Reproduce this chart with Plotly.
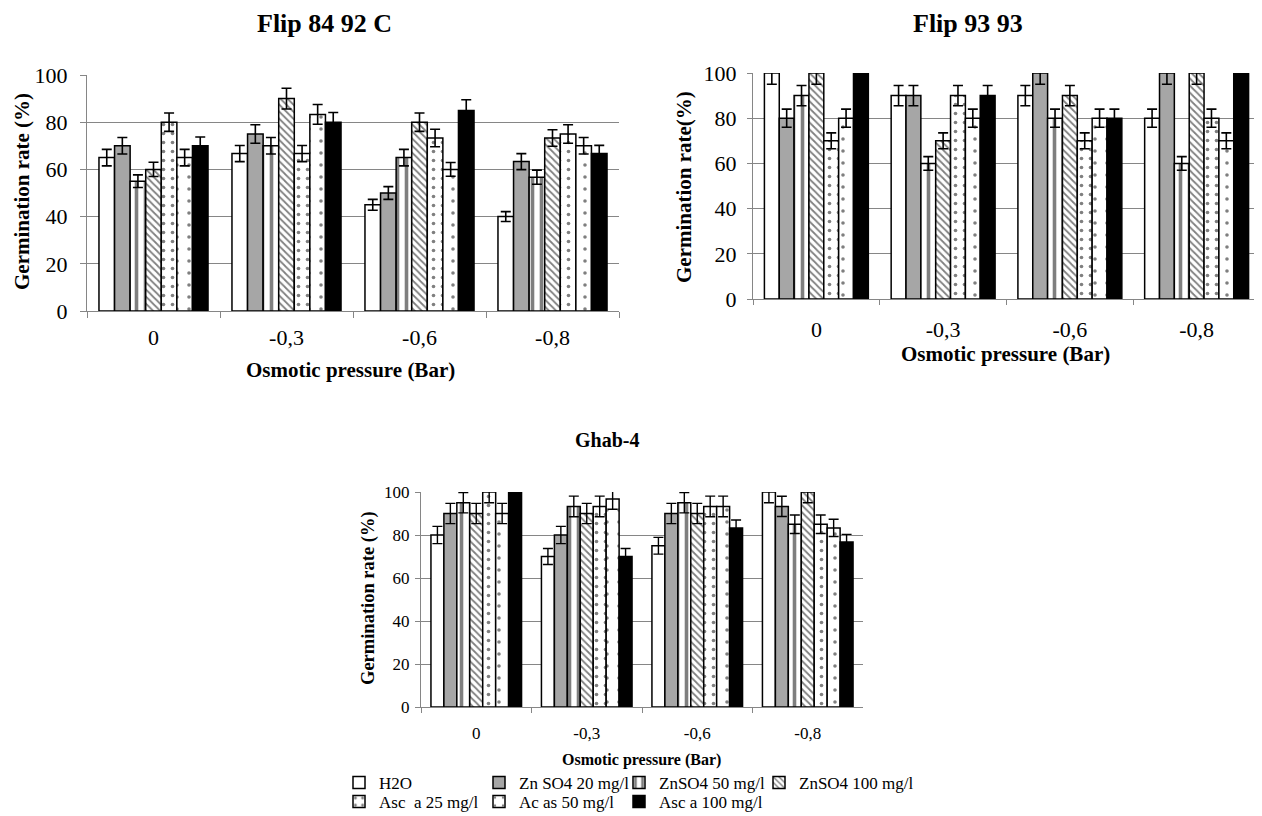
import plotly.graph_objects as go

W, H = 1262, 816
OFF = 8  # page body margin offset in the browser

categories = ["0", "-0,3", "-0,6", "-0,8"]
series_names = ["H2O", "Zn SO4 20 mg/l", "ZnSO4 50 mg/l", "ZnSO4 100 mg/l",
                "Asc\u00a0 a 25 mg/l", "Ac as 50 mg/l", "Asc a 100 mg/l"]

# ---- Flip 84 92 C ----
f1_h2o = [65, 66.7, 45, 40]
f1_zn20 = [70, 75, 50, 63.3]
f1_zn50 = [55, 70, 65, 56.7]
f1_zn100 = [60, 90, 80, 73.3]
f1_asc25 = [80, 66.7, 73.3, 75]
f1_ac50 = [65, 83.3, 60, 70]
f1_asc100 = [70, 80, 85, 66.7]
f1_h2o_err = [3.5, 3.4, 2.3, 2.1]
f1_zn20_err = [3.5, 3.9, 2.7, 3.4]
f1_zn50_err = [2.7, 3.5, 3.5, 3.0]
f1_zn100_err = [3.0, 4.4, 3.9, 3.5]
f1_asc25_err = [3.9, 3.4, 3.7, 3.9]
f1_ac50_err = [3.5, 4.2, 2.9, 3.5]
f1_asc100_err = [3.7, 4.1, 4.5, 3.5]

# ---- Flip 93 93 ----
f2_h2o = [100, 90, 90, 80]
f2_zn20 = [80, 90, 100, 100]
f2_zn50 = [90, 60, 80, 60]
f2_zn100 = [100, 70, 90, 100]
f2_asc25 = [70, 90, 70, 80]
f2_ac50 = [80, 80, 80, 70]
f2_asc100 = [100, 90, 80, 100]
f2_h2o_err = [5, 4.5, 4.5, 4]
f2_zn20_err = [4, 4.5, 5, 5]
f2_zn50_err = [4.5, 3, 4, 3]
f2_zn100_err = [5, 3.5, 4.5, 5]
f2_asc25_err = [3.5, 4.5, 3.5, 4]
f2_ac50_err = [4, 4, 4, 3.5]
f2_asc100_err = [5, 4.5, 4, 5]

# ---- Ghab-4 ----
g_h2o = [80, 70, 75, 100]
g_zn20 = [90, 80, 90, 93.3]
g_zn50 = [95, 93.3, 95, 85]
g_zn100 = [90, 90, 90, 100]
g_asc25 = [100, 93.3, 93.3, 85]
g_ac50 = [90, 96.7, 93.3, 83.3]
g_asc100 = [100, 70, 83.3, 76.7]
g_h2o_err = [4, 3.7, 3.9, 5]
g_zn20_err = [4.7, 4, 4.7, 4.7]
g_zn50_err = [4.7, 4.8, 4.7, 4.3]
g_zn100_err = [4.7, 4.7, 4.7, 5]
g_asc25_err = [5, 4.8, 4.8, 4.3]
g_ac50_err = [4.7, 4.7, 4.8, 4]
g_asc100_err = [5, 3.7, 3.7, 3.6]

panels = [
    ([f1_h2o, f1_zn20, f1_zn50, f1_zn100, f1_asc25, f1_ac50, f1_asc100],
     [f1_h2o_err, f1_zn20_err, f1_zn50_err, f1_zn100_err, f1_asc25_err, f1_ac50_err, f1_asc100_err]),
    ([f2_h2o, f2_zn20, f2_zn50, f2_zn100, f2_asc25, f2_ac50, f2_asc100],
     [f2_h2o_err, f2_zn20_err, f2_zn50_err, f2_zn100_err, f2_asc25_err, f2_ac50_err, f2_asc100_err]),
    ([g_h2o, g_zn20, g_zn50, g_zn100, g_asc25, g_ac50, g_asc100],
     [g_h2o_err, g_zn20_err, g_zn50_err, g_zn100_err, g_asc25_err, g_ac50_err, g_asc100_err]),
]

styles = [
    dict(color="white", pattern=dict(shape="")),
    dict(color="#A6A6A6", pattern=dict(shape="")),
    dict(color="white", pattern=dict(shape="|", fgcolor="black", bgcolor="white", size=9, solidity=0.4)),
    dict(color="white", pattern=dict(shape="\\", fgcolor="black", bgcolor="white", size=5, solidity=0.35)),
    dict(color="white", pattern=dict(shape=".", fgcolor="black", bgcolor="white", size=9, solidity=0.13)),
    dict(color="white", pattern=dict(shape=".", fgcolor="black", bgcolor="white", size=12, solidity=0.07)),
    dict(color="black", pattern=dict(shape="")),
]

FONT = "Liberation Serif"
GRID = "#868686"

fig = go.Figure()
axis_ids = [("x", "y"), ("x2", "y2"), ("x3", "y3")]
for p, (vals, errs) in enumerate(panels):
    xa, ya = axis_ids[p]
    ethick = 1.6 if p < 2 else 1.4
    for s in range(7):
        fig.add_trace(go.Bar(
            x=categories, y=vals[s], name=series_names[s],
            xaxis=xa, yaxis=ya,
            legendgroup=series_names[s],
            legend="legend" if s < 4 else "legend2",
            legendwidth=150 if s in (3, 6) else 95,
            showlegend=(p == 0),
            marker=dict(color=styles[s]["color"], pattern=styles[s]["pattern"],
                        line=dict(color="black", width=1.5)),
            error_y=dict(type="data", array=errs[s], color="black",
                         thickness=ethick, width=5),
        ))

def px_x(v):
    return (v - OFF) / W

def px_y(v):
    return 1 - (v - OFF) / H

# plot rectangles (screen pixels of the reference)
rects = [(87, 619, 75, 311), (753, 1260, 73, 299), (421, 863, 492, 707)]
tick_sizes = [(22, 22), (22, 22), (17, 17)]
ticklens = [6, 5, 5]
ystand = [8, 6, 2]
xstand = [6, 10, 10]

layout = dict(
    width=W, height=H, margin=dict(l=0, r=0, t=0, b=0, autoexpand=False),
    paper_bgcolor="white", plot_bgcolor="white",
    barmode="group", bargap=0.18, bargroupgap=0,
    font=dict(family=FONT, color="black"),
    showlegend=True,
)
for p, (x0, x1, y0, y1) in enumerate(rects):
    sfx = "" if p == 0 else str(p + 1)
    ysz, xsz = tick_sizes[p]
    layout["xaxis" + sfx] = dict(
        domain=[px_x(x0), px_x(x1)], anchor="y" + sfx,
        showline=True, linecolor=GRID, linewidth=1.3,
        ticks="outside", tickson="boundaries", ticklen=ticklens[p], tickcolor=GRID, tickwidth=1.3,
        showgrid=False, tickfont=dict(size=xsz, family=FONT, color="black"),
        ticklabelstandoff=xstand[p],
        fixedrange=True, automargin=False,
    )
    layout["yaxis" + sfx] = dict(
        domain=[px_y(y1), px_y(y0)], anchor="x" + sfx,
        range=[0, 100], dtick=20, tick0=0,
        showline=True, linecolor=GRID, linewidth=1.3,
        ticks="outside", ticklen=ticklens[p], tickcolor=GRID, tickwidth=1.3,
        showgrid=True, gridcolor=GRID, gridwidth=1.3, zeroline=False,
        tickfont=dict(size=ysz, family=FONT, color="black"),
        ticklabelstandoff=ystand[p],
        fixedrange=True, automargin=False,
    )

layout["legend"] = dict(
    orientation="h", x=px_x(339), y=px_y(765), xanchor="left", yanchor="top",
    font=dict(size=17, family=FONT), bgcolor="rgba(0,0,0,0)",
    itemwidth=30, tracegroupgap=0,
)
layout["legend2"] = dict(
    orientation="h", x=px_x(339), y=px_y(784), xanchor="left", yanchor="top",
    font=dict(size=17, family=FONT), bgcolor="rgba(0,0,0,0)",
    itemwidth=30, tracegroupgap=0,
)

def ann(text, x, y, size, angle=0):
    return dict(text=text, x=px_x(x), y=px_y(y), xref="paper", yref="paper",
                xanchor="center", yanchor="middle", showarrow=False,
                textangle=angle, font=dict(size=size, family=FONT, color="black"))

layout["annotations"] = [
    ann("<b>Flip 84 92 C</b>", 324, 23, 26),
    ann("<b>Flip 93 93</b>", 968, 23, 26),
    ann("<b>Ghab-4</b>", 607, 440, 20),
    ann("<b>Osmotic pressure (Bar)</b>", 350, 370, 21),
    ann("<b>Osmotic pressure (Bar)</b>", 1006, 354, 21),
    ann("<b>Osmotic pressure (Bar)</b>", 641, 760, 16),
    ann("<b>Germination rate (%)</b>", 22, 192, 21, -90),
    ann("<b>Germination rate(%)</b>", 684, 187, 21, -90),
    ann("<b>Germination rate (%)</b>", 368, 598, 18.5, -90),
]

fig.update_layout(**layout)
fig.write_html("out.html")
